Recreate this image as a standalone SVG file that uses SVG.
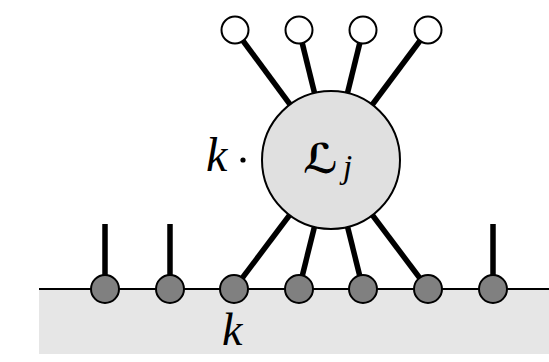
<svg xmlns="http://www.w3.org/2000/svg" width="549" height="362" viewBox="0 0 549 362">
<style>
.leg{stroke:#000;stroke-width:5.5;stroke-linecap:butt}
.open{fill:#fff;stroke:#000;stroke-width:2}
.site{fill:#808080;stroke:#000;stroke-width:2}
.it{font-family:"Liberation Serif",serif;font-style:italic;fill:#000}
</style>
<rect x="39" y="289" width="510" height="65" fill="#e6e6e6"/>
<line x1="39" y1="289" x2="549" y2="289" stroke="#000" stroke-width="2"/>
<g id="connectors">
<line class="leg" x1="105" y1="224" x2="105" y2="289"/>
<line class="leg" x1="170" y1="224" x2="170" y2="289"/>
<line class="leg" x1="493" y1="224" x2="493" y2="289"/>
<line class="leg" x1="234" y1="289" x2="331" y2="160"/>
<line class="leg" x1="299" y1="289" x2="331" y2="160"/>
<line class="leg" x1="363" y1="289" x2="331" y2="160"/>
<line class="leg" x1="428" y1="289" x2="331" y2="160"/>
<line class="leg" x1="235" y1="30" x2="331" y2="160"/>
<line class="leg" x1="299" y1="30" x2="331" y2="160"/>
<line class="leg" x1="363" y1="30" x2="331" y2="160"/>
<line class="leg" x1="428" y1="30" x2="331" y2="160"/>
</g>
<g id="L">
<circle cx="331" cy="160" r="69" fill="#e0e0e0" stroke="#000" stroke-width="2"/>
<text x="303" y="173" font-family="DejaVu Sans, sans-serif" font-weight="bold" font-size="41" fill="#000">ℒ</text>
<text x="343" y="178" class="it" font-size="33">j</text>
</g>
<g id="open1"><circle class="open" cx="235" cy="30" r="13.5"/></g>
<g id="open2"><circle class="open" cx="299" cy="30" r="13.5"/></g>
<g id="open3"><circle class="open" cx="363" cy="30" r="13.5"/></g>
<g id="open4"><circle class="open" cx="428" cy="30" r="13.5"/></g>
<g id="s1"><circle class="site" cx="105" cy="289" r="14"/></g>
<g id="s2"><circle class="site" cx="170" cy="289" r="14"/></g>
<g id="s3"><circle class="site" cx="234" cy="289" r="14"/></g>
<g id="s4"><circle class="site" cx="299" cy="289" r="14"/></g>
<g id="s5"><circle class="site" cx="363" cy="289" r="14"/></g>
<g id="s6"><circle class="site" cx="428" cy="289" r="14"/></g>
<g id="s7"><circle class="site" cx="493" cy="289" r="14"/></g>
<g id="labels">
<text x="206" y="171" class="it" font-size="48">k</text>
<circle cx="243" cy="160" r="2.6" fill="#000"/>
<text x="222" y="345" class="it" font-size="46">k</text>
</g>
</svg>
